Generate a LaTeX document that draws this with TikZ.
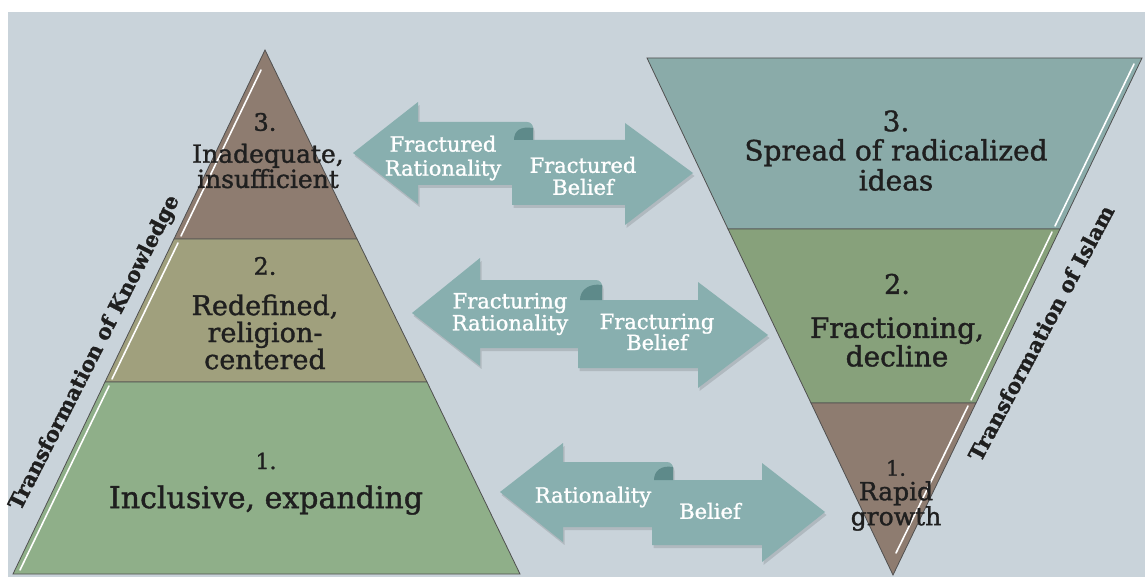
\documentclass[tikz,border=0pt]{standalone}
\usepackage{fontspec}
\setmainfont{DejaVu Serif}[FakeBold=1.3]
\newcommand{\fsz}[2]{\fontsize{#1}{#2}\selectfont}
\definecolor{bgc}{HTML}{C9D3DA}
\definecolor{arrc}{HTML}{88AFAF}
\definecolor{curlc}{HTML}{5E8A8A}
\definecolor{brownc}{HTML}{8E7C70}
\definecolor{olivec}{HTML}{A0A07D}
\definecolor{greenc}{HTML}{8FAF89}
\definecolor{tealc}{HTML}{8AABA9}
\definecolor{midgreen}{HTML}{87A17B}
\definecolor{edgec}{HTML}{505050}
\begin{document}
\begin{tikzpicture}[x=1pt,y=-1pt,
  tier/.style={draw=edgec,line width=0.8pt},
  bevel/.style={white,line width=1.6pt,line cap=round},
  lbl/.style={align=center,inner sep=0pt,text=black!88},
  atxt/.style={align=center,inner sep=0pt,text=white},
  side/.style={inner sep=0pt,text=black!88,font=\bfseries\fsz{21}{24}},
  shadowc/.style={fill=black,opacity=0.12},
  arrA/.style={insert path={(353,153) -- (418,102) -- (418,122) [rounded corners=6] -- (533,122) [sharp corners] -- (533,185) -- (418,185) -- (418,204) -- cycle
     (512,140) -- (625,140) -- (625,123) -- (693,173) -- (625,225) -- (625,205) -- (512,205) -- cycle}},
  arrB/.style={insert path={(412,313) -- (480,258) -- (480,280) [rounded corners=6] -- (602,280) [sharp corners] -- (602,348) -- (480,348) -- (480,366) -- cycle
     (578,300) -- (698,300) -- (698,282) -- (768,335) -- (698,388) -- (698,368) -- (578,368) -- cycle}},
  arrC/.style={insert path={(500,492) -- (563,443) -- (563,462) [rounded corners=6] -- (673,462) [sharp corners] -- (673,527) -- (563,527) -- (563,542) -- cycle
     (652,480) -- (762,480) -- (762,463) -- (825,512) -- (762,562) -- (762,545) -- (652,545) -- cycle}}
]
\useasboundingbox (0,0) rectangle (1145,577);
\fill[white] (0,0) rectangle (1145,577);
\fill[bgc] (8,12) rectangle (1145,577);

% left pyramid
\filldraw[tier,fill=brownc] (265,50) -- (357,239) -- (174,239) -- cycle;
\filldraw[tier,fill=olivec] (174,239) -- (357,239) -- (427,382) -- (105,382) -- cycle;
\filldraw[tier,fill=greenc] (105,382) -- (427,382) -- (520,574) -- (13,574) -- cycle;
\draw[bevel] (261,70) -- (181,236);
\draw[bevel] (178,243) -- (112,379);
\draw[bevel] (109,386) -- (20,570);

% right funnel
\filldraw[tier,fill=tealc] (647,58) -- (1142,58) -- (1060,229) -- (728,229) -- cycle;
\filldraw[tier,fill=midgreen] (728,229) -- (1060,229) -- (976,403) -- (811,403) -- cycle;
\filldraw[tier,fill=brownc] (811,403) -- (976,403) -- (893,575) -- cycle;
\draw[bevel] (1134,64) -- (1055,226);
\draw[bevel] (1052,232) -- (971,400);
\draw[bevel] (968,406) -- (896,553);

% arrows
\fill[shadowc,shift={(1.5,3)},arrA];
\fill[shadowc,shift={(1.5,3)},arrB];
\fill[shadowc,shift={(1.5,3)},arrC];
\fill[arrc,arrA];
\fill[arrc,arrB];
\fill[arrc,arrC];
\fill[curlc] (533,128) .. controls (520,126) and (514,131) .. (514,140) -- (533,140) -- cycle;
\fill[curlc] (602,285) .. controls (589,283) and (580,290) .. (580,300) -- (602,300) -- cycle;
\fill[curlc] (673,467) .. controls (661,465) and (654,471) .. (654,480) -- (673,480) -- cycle;

% left pyramid labels
\node[lbl,font=\fsz{24}{24}] (k3n) at (265,122) {3.};
\node[lbl,font=\fsz{25}{22}] (k3) at (268,166) {Inadequate,\\insufficient};
\node[lbl,font=\fsz{24}{24}] (k2n) at (265,266) {2.};
\node[lbl,font=\fsz{27}{27}] (k2) at (265,332) {Redefined,\\religion-\\centered};
\node[lbl,font=\fsz{22}{22}] (k1n) at (266,461) {1.};
\node[lbl,font=\fsz{30}{30}] (k1) at (266,500) {Inclusive, expanding};

% funnel labels
\node[lbl,font=\fsz{28}{28}] (i3n) at (896,121) {3.};
\node[lbl,font=\fsz{28}{30}] (i3) at (896,165) {Spread of radicalized\\ideas};
\node[lbl,font=\fsz{27}{27}] (i2n) at (897,284) {2.};
\node[lbl,font=\fsz{28}{26}] (i2) at (897,342) {Fractioning,\\decline};
\node[lbl,font=\fsz{21}{22}] (i1n) at (896,468) {1.};
\node[lbl,font=\fsz{25}{25}] (i1) at (896,506) {Rapid\\growth};

% arrow labels
\node[atxt,font=\fsz{21}{24}] (fr) at (443,158) {Fractured\\Rationality};
\node[atxt,font=\fsz{21}{22}] (fb) at (583,176) {Fractured\\Belief};
\node[atxt,font=\fsz{21}{22}] (gr) at (510,314) {Fracturing\\Rationality};
\node[atxt,font=\fsz{21}{21}] (gb) at (657,332) {Fracturing\\Belief};
\node[atxt,font=\fsz{21}{22}] (rr) at (593,497) {Rationality};
\node[atxt,font=\fsz{21}{22}] (rb) at (710,511) {Belief};

% side labels
\node[side,rotate=63] (tk) at (95,353) {Transformation of Knowledge};
\node[side,rotate=62] (ti) at (1041,333) {Transformation of Islam};
\end{tikzpicture}
\end{document}
